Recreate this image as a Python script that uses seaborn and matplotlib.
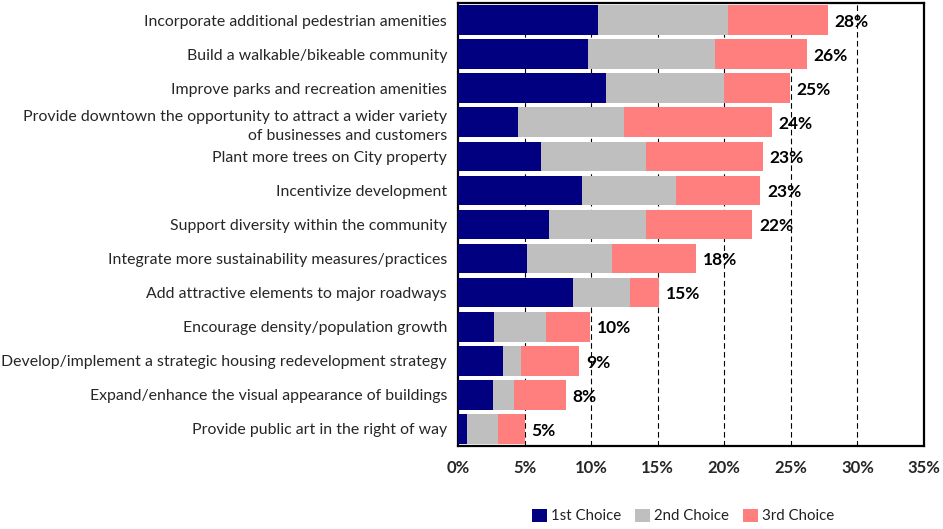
import matplotlib
matplotlib.use("Agg")
import matplotlib.pyplot as plt
import seaborn as sns
import pandas as pd
import numpy as np
from matplotlib.patches import Patch

categories = [
    "Incorporate additional pedestrian amenities",
    "Build a walkable/bikeable community",
    "Improve parks and recreation amenities",
    "Provide downtown the opportunity to attract a wider variety\nof businesses and customers",
    "Plant more trees on City property",
    "Incentivize development",
    "Support diversity within the community",
    "Integrate more sustainability measures/practices",
    "Add attractive elements to major roadways",
    "Encourage density/population growth",
    "Develop/implement a strategic housing redevelopment strategy",
    "Expand/enhance the visual appearance of buildings",
    "Provide public art in the right of way",
]
first_choice = [10.5, 9.8, 11.1, 4.5, 6.2, 9.3, 6.8, 5.2, 8.6, 2.7, 3.4, 2.6, 0.7]
second_choice = [9.8, 9.5, 8.9, 8.0, 7.9, 7.1, 7.3, 6.4, 4.3, 3.9, 1.3, 1.6, 2.3]
third_choice = [7.5, 6.9, 4.9, 11.1, 8.8, 6.3, 8.0, 6.3, 2.2, 3.3, 4.4, 3.9, 2.0]
series_names = ["1st Choice", "2nd Choice", "3rd Choice"]
series_colors = ["#000080", "#BFBFBF", "#FF7F7F"]
x_ticks = [0, 5, 10, 15, 20, 25, 30, 35]

sns.set_theme(style="white")
plt.rcParams["font.family"] = ["Lato", "DejaVu Sans"]

df = pd.DataFrame({
    "category": categories,
    "c1": first_choice,
    "c2": second_choice,
    "c3": third_choice,
})
df["cum1"] = df["c1"]
df["cum2"] = df["c1"] + df["c2"]
df["cum3"] = df["cum2"] + df["c3"]

fig = plt.figure(figsize=(9.43, 5.29), dpi=100)
ax = fig.add_axes([458 / 943, 1 - 446 / 529, (924 - 458) / 943, (446 - 3) / 529])

# stacked bars: draw cumulative totals back to front
for col, color in zip(["cum3", "cum2", "cum1"], series_colors[::-1]):
    sns.barplot(data=df, x=col, y="category", orient="h", color=color,
                width=0.87, saturation=1, ax=ax, zorder=3)

for p in ax.patches:
    p.set_edgecolor("none")

# total labels at the end of each bar
for i, total in enumerate(df["cum3"]):
    ax.text(total + 0.5, i + 0.05, f"{round(total):.0f}%", va="center", ha="left",
            fontsize=12.5, fontweight="bold", color="black", zorder=4)

ax.set_xlim(0, 35)
ax.set_ylim(12.5, -0.5)
ax.set_xticks(x_ticks)
ax.set_xticklabels([f"{t}%" for t in x_ticks], fontsize=12, fontweight="bold")
ax.set_xlabel("")
ax.set_ylabel("")
ax.tick_params(axis="y", length=0, pad=8, labelsize=11.4)
ax.tick_params(axis="x", length=0, pad=10)
for lbl in ax.get_yticklabels():
    lbl.set_horizontalalignment("right")
    lbl.set_multialignment("right")
    lbl.set_linespacing(1.45)

for t in x_ticks[1:-1]:
    ax.axvline(t, color="black", lw=0.8, ls=(0, (5, 3)), zorder=1)

for side in ["top", "right", "bottom", "left"]:
    ax.spines[side].set_visible(True)
    ax.spines[side].set_color("black")
    ax.spines[side].set_linewidth(1.6)

handles = [Patch(facecolor=c, edgecolor="none") for c in series_colors]
fig.legend(handles, series_names, loc="center", bbox_to_anchor=(683 / 943, 1 - 516 / 529),
           ncol=3, frameon=False, fontsize=10.8, handlelength=1.0, handleheight=1.0,
           handletextpad=0.3, columnspacing=0.9, labelcolor="#222222")

fig.savefig("out.png", dpi=100)
